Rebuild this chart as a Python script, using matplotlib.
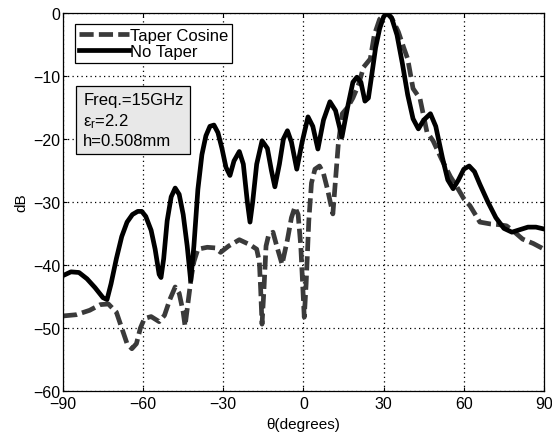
import matplotlib
matplotlib.use("Agg")
import matplotlib.pyplot as plt

plt.rcParams["font.family"] = ["Liberation Sans", "DejaVu Sans"]
plt.rcParams["mathtext.fontset"] = "custom"
plt.rcParams["mathtext.rm"] = "Liberation Sans"
plt.rcParams["mathtext.it"] = "Liberation Sans"

# No Taper (solid)
theta_nt = [
    -90, -87, -84, -81, -78, -75, -73.5, -72, -70, -68, -66, -64, -62, -60.5,
    -59, -57, -55.5, -54, -53.3, -52.3, -51, -49.5, -48, -46.5, -45, -43.5,
    -42.2, -41, -39.5, -38, -36.5, -35, -33.5, -32, -30.5, -29, -27.5, -26,
    -24, -22.5, -21, -20, -19, -17.5, -15.5, -13.5, -12, -10.7, -9, -7.5, -6,
    -4.5, -2.5, -0.5, 1.7, 3.5, 5.4, 7.5, 9.9, 12, 14.4, 16.5, 18.5, 20, 21.5,
    23, 24.3, 25.5, 27, 28.5, 30, 31.3, 33, 35, 37, 39, 41, 43, 45, 47.5, 49.5,
    52, 54, 56, 58, 60, 62, 64, 66, 69, 72, 75, 78, 81, 84, 87, 90,
]
db_nt = [
    -41.7, -41.1, -41.2, -42.2, -43.6, -45.2, -45.5, -43, -39, -35.5, -33.2,
    -32, -31.5, -31.5, -32.3, -34.5, -37.5, -41.5, -42, -39, -33, -29.2, -27.8,
    -28.8, -32, -37, -42.5, -37, -28, -22.5, -19.5, -18, -17.8, -19, -21.5,
    -24.5, -25.8, -23.5, -22, -24, -30, -33.2, -30, -24, -20.3, -21.5, -25,
    -27.6, -24, -20, -18.7, -20.5, -24.8, -20.5, -16.5, -18, -21.6, -17, -14.1,
    -15.5, -19.7, -15, -11, -10.2, -11, -14, -13.5, -10, -5.5, -2.5, -0.6, 0,
    -0.8, -3.5, -8, -13, -16.8, -18.4, -17, -16, -18, -23, -26.5, -27.9, -26.5,
    -24.8, -24.3, -25.2, -27.2, -30, -32.5, -34.2, -34.8, -34.4, -34, -34, -34.3,
]

# Taper Cosine (dashed)
theta_tc = [
    -90, -85, -80, -76, -73, -70, -68, -66, -64.2, -62.5, -61, -59.5, -57, -54,
    -52, -50, -48, -46.5, -45, -44.3, -43.5, -42, -41, -39.5, -36, -33, -31,
    -28, -24, -20, -17.5, -16.5, -16, -15.5, -14.8, -14, -13, -11.4, -10, -8,
    -6, -4.5, -3.2, -2, -1, 0.3, 1, 2, 3, 4.3, 6, 7.5, 9, 11, 13, 14.5, 16.5,
    18.5, 20.5, 22.5, 25, 26.5, 28.5, 31, 33, 35.5, 37.5, 39, 41, 43.6, 46.2,
    48.5, 52, 55, 57.8, 60, 62.3, 66, 70, 73, 76, 79, 82, 86, 90,
]
db_tc = [
    -48.1, -47.9, -47.2, -46.3, -46.2, -47.5, -50, -52.5, -53.3, -52.5, -50,
    -48.5, -48.2, -49, -48, -45.5, -43.5, -44.5, -47.5, -49.7, -47, -42, -39.5,
    -37.5, -37.2, -37.3, -38, -37, -36, -36.8, -37.5, -39.5, -44, -49.4, -44,
    -37, -35.2, -34.8, -37, -39.9, -36, -32.5, -30.8, -32, -37, -48.3, -43,
    -33, -27, -24.8, -24.3, -25.5, -28, -31.9, -21, -16, -15, -13.5, -11.5,
    -8.6, -7.3, -3.5, -1, 0, -0.8, -3, -5.5, -7.3, -12, -13.6, -18.9, -20.3,
    -23.5, -26, -27.9, -29.5, -30.6, -33.2, -33.5, -33.6, -33.8, -34.8, -35.9,
    -36.6, -37.5,
]

x_ticks = [-90, -60, -30, 0, 30, 60, 90]
y_ticks = [-60, -50, -40, -30, -20, -10, 0]

fig = plt.figure(figsize=(5.52, 4.35), dpi=100)
ax = fig.add_axes([0.114, 0.099, 0.8715, 0.869])

ax.plot(theta_tc, db_tc, color="#3a3a3a", lw=3.4, dashes=(3.0, 1.1),
        label="Taper Cosine")
ax.plot(theta_nt, db_nt, color="black", lw=3.4, label="No Taper")

ax.set_xlim(-90, 90)
ax.set_ylim(-60, 0)
ax.set_xticks(x_ticks)
ax.set_yticks(y_ticks)
ax.set_xticklabels(["\u221290", "\u221260", "\u221230", "0", "30", "60", "90"])
ax.set_yticklabels(["\u221260", "\u221250", "\u221240", "\u221230", "\u221220", "\u221210", "0"])
ax.tick_params(direction="in", length=3, labelsize=11.5, top=True, right=True,
               width=0.8)
ax.tick_params(axis="x", pad=4)
ax.tick_params(axis="y", pad=2)
ax.grid(True, color="black", linestyle=(0, (1, 2.6)), linewidth=0.9)
for sp in ax.spines.values():
    sp.set_linewidth(0.9)

ax.set_xlabel("\u03b8(degrees)", fontsize=11, labelpad=4)
ax.set_ylabel("dB", fontsize=11, labelpad=3)

leg = ax.legend(loc="upper left", bbox_to_anchor=(0.025, 0.971), fontsize=12,
                handlelength=3.0, handletextpad=0.05, borderpad=0.25,
                labelspacing=0.05, fancybox=False, framealpha=1,
                edgecolor="black", borderaxespad=0)
leg.get_frame().set_linewidth(0.9)

ax.text(0.042, 0.79, "Freq.=15GHz\n$\\varepsilon_r$=2.2\nh=0.508mm",
        transform=ax.transAxes, fontsize=12, va="top", ha="left",
        linespacing=1.25,
        bbox=dict(boxstyle="square,pad=0.4", facecolor="#e8e8e8",
                  edgecolor="black", linewidth=0.9))

fig.savefig("out.png", dpi=100)
